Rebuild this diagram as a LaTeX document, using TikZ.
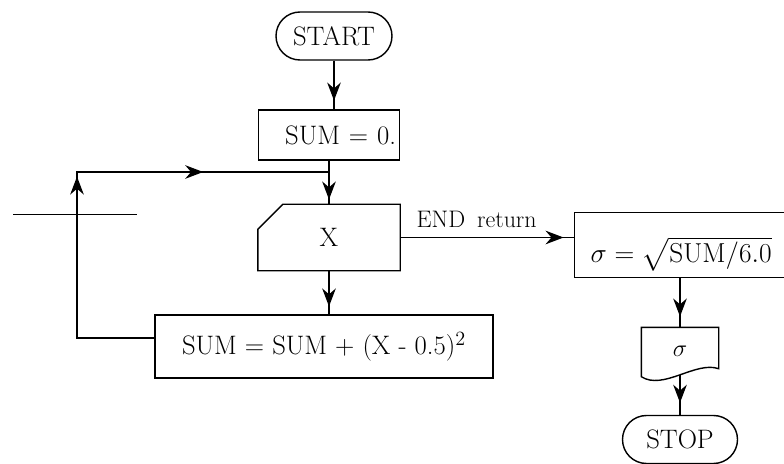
\documentclass[tikz,border=0pt]{standalone}
\usepackage{amsmath}
\usepackage{graphicx}
\usetikzlibrary{arrows.meta,decorations.markings}

\begin{document}
\begin{tikzpicture}[x=0.25mm,y=-0.25mm,line width=1pt,
  every node/.style={font=\fontsize{19}{22}\selectfont},
  terminal/.style={draw,rounded corners=6mm,minimum width=29mm,minimum height=12mm},
  process/.style={draw,minimum width=35.25mm,minimum height=12.5mm},
  midarrow/.style={postaction={decorate,decoration={markings,
    mark=at position #1 with {\arrow{Stealth[length=4.5mm,width=3.4mm]}}}}}]
\useasboundingbox (0,0) rectangle (784,464);

\node[terminal] (start) at (334,36) {START};
\node[process,text width=33.5mm,align=right,inner xsep=0.5mm] (sum0) at (329,135) {SUM = 0.};
\node[minimum width=35.25mm,minimum height=16.25mm] (x) at (329,237.5) {X};
\node[draw,minimum width=84.5mm,minimum height=15.75mm] (sumsq) at (324,346.5) {SUM = SUM + (X - 0.5)$^2$};
\node[draw,anchor=north west,inner ysep=0pt,inner xsep=4mm,text height=12.5mm,text depth=3.75mm,
  text width=48.5mm,align=left,font=\fontsize{20.5}{24}\selectfont] (sig) at (574,212) {\scalebox{0.94}{$\sigma = \sqrt{\mathrm{SUM/6.0}}$}};
\node[minimum width=19mm,minimum height=11.5mm] (doc) at (680,351) {$\sigma$};
\node[terminal,minimum width=28.75mm] (stop) at (680,439.5) {STOP};

\draw (x.north east) -- (x.south east) -- (x.south west) -- ([yshift=-6.25mm]x.north west)
  -- ([xshift=6.25mm]x.north west) -- cycle;
\draw (doc.north west) -- (doc.north east) -- ([yshift=1.5mm]doc.south east)
  .. controls +(-23,-8) and +(22,14) .. ([yshift=-0.5mm]doc.south west) -- cycle;

\coordinate (loopbl) at (77,338);
\coordinate (looptl) at (77,172);
\coordinate (join) at (329,172);

\draw[midarrow=0.82] (start.south) -- (start.south |- sum0.north);
\draw[midarrow=0.89] (sum0) -- (x);
\draw[midarrow=0.82] (x.south) -- (x.south |- sumsq.north);
\draw[midarrow=0.94] (x.east) -- node[pos=0.44,above=1.2mm,font=\fontsize{17}{20}\selectfont] (endlbl) {END\hspace{0.5em}return} (x.east -| sig.west);
\draw[midarrow=0.78] (sig.south -| doc.north) -- (doc.north);
\draw[midarrow=0.7] (doc.south) -- (stop);
\draw[midarrow=0.482,midarrow=0.746] (sumsq.west |- loopbl) -- (loopbl) -- (looptl) -- (join);

\draw[thin] (13,214) -- (137,214);
\end{tikzpicture}
\end{document}
